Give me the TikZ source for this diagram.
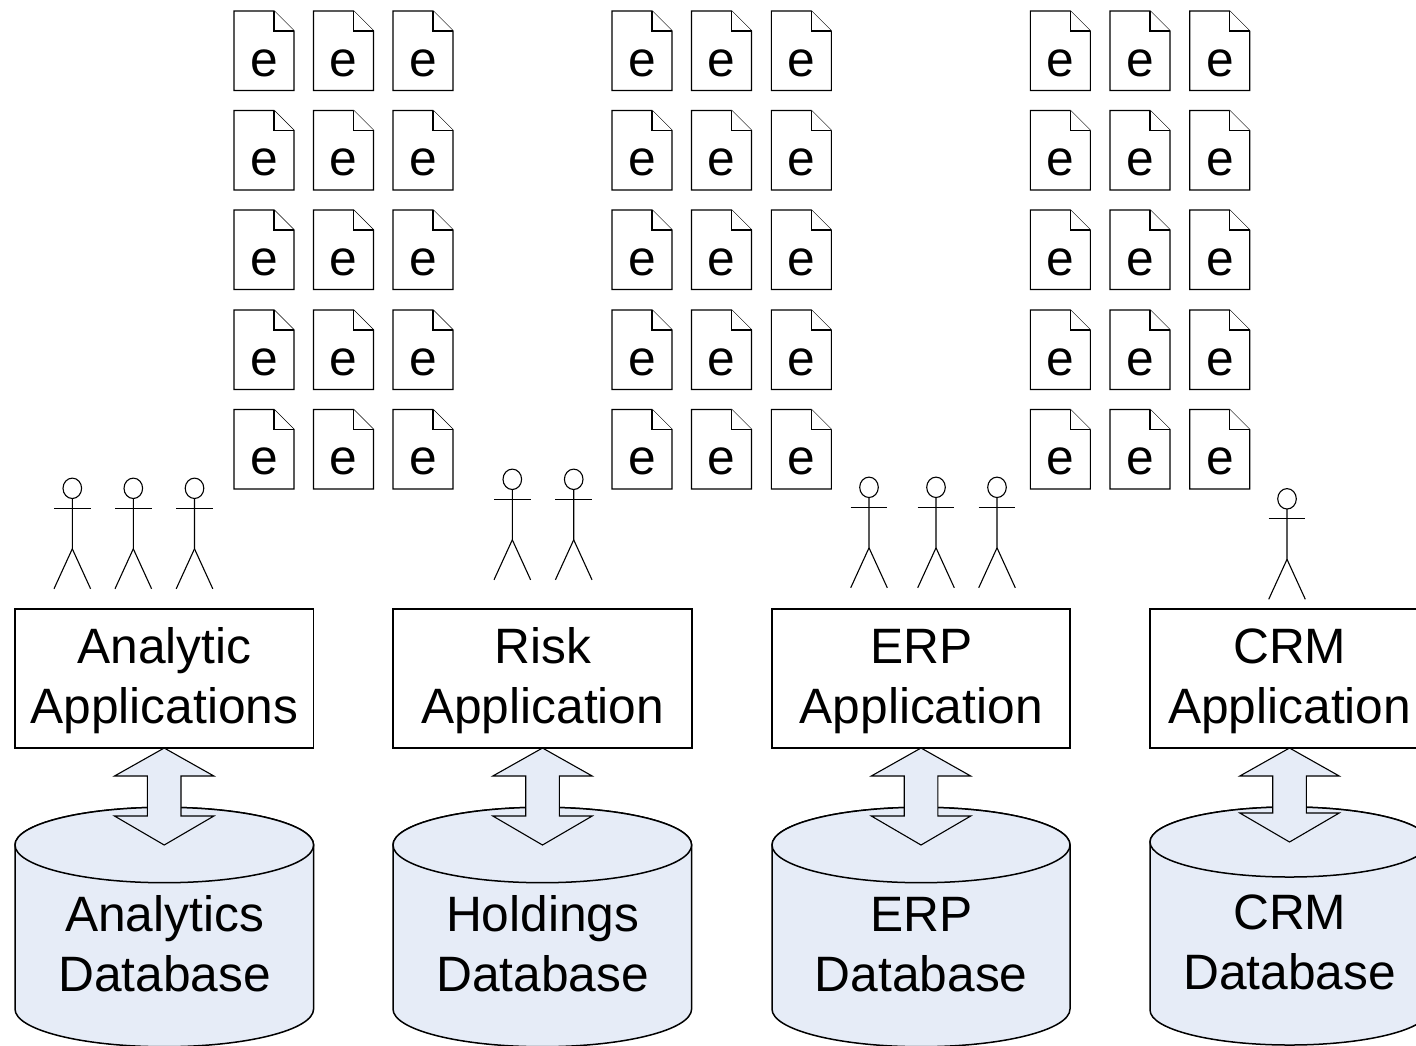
\documentclass[tikz,border=0pt]{standalone}
\usepackage{fontspec}
\setmainfont{Liberation Sans}
\usetikzlibrary{calc}
\definecolor{dbfill}{HTML}{E6ECF7}
\tikzset{
  thick line/.style={line width=0.75pt,draw=black},
  thin line/.style={line width=0.55pt,draw=black},
  label text/.style={font=\fontsize{24.85}{30}\selectfont,align=center,anchor=base,inner sep=0pt,outer sep=0pt,text=black},
  appbox/.style={thick line,fill=white,rectangle,minimum height=69.5pt,inner sep=0pt,outer sep=0pt,anchor=north west},
  dbbody/.style={thick line,fill=dbfill,line join=round},
  dblarrow/.style={thin line,fill=dbfill,line join=miter},
  docshape/.style={thin line,fill=white,line join=miter},
  actorline/.style={thin line,line cap=butt}
}
% #1 left x, #2 head-row y
\newcommand{\actorfig}[2]{%
  \draw[actorline] (#1,#2) ellipse [x radius=9.3,y radius=10.2];
  \draw[actorline] (#1,#2+10.2) -- (#1,#2+60.5) -- (#1-18.3,#2+100.5);
  \draw[actorline] (#1,#2+60.5) -- (#1+18.3,#2+100.5);
  \draw[actorline] (#1-18.3,#2+20) -- (#1+18.3,#2+20);
}
% #1 name prefix, #2 x of left, #3 y of top
\newcommand{\docfig}[3]{%
  \draw[docshape] (#2,#3) -- (#2+40,#3) -- (#2+60,#3+20) -- (#2+60,#3+79.5) -- (#2,#3+79.5) -- cycle;
  \draw[docshape] (#2+40,#3) -- (#2+40,#3+20) -- (#2+60,#3+20);
  \node[label text] (#1) at (#2+30.3,#3+65.3) {e};
}
% #1 left, #2 half width, #3 top-ellipse centre y, #4 ry, #5 bottom-curve centre y
\newcommand{\dbfig}[5]{%
  \draw[dbbody] (#1,#3) -- (#1,#5) arc[start angle=180,end angle=0,x radius=#2,y radius=#4]
     -- (#1+2*#2,#3) arc[start angle=0,end angle=-180,x radius=#2,y radius=#4] -- cycle;
  \draw[dbbody] (#1+#2,#3) ellipse [x radius=#2,y radius=#4];
}
% #1 upper node name, #2 lower tip coordinate, #3 lower wing distance above the tip
\newcommand{\dblarrowfig}[3]{%
  \draw[dblarrow] ($(#2|-#1.south)$) -- ($(#2|-#1.south)+(49.7,28)$) -- ($(#2|-#1.south)+(16.8,28)$)
    -- ($(#2)+(16.8,-#3)$) -- ($(#2)+(49.7,-#3)$) -- (#2) -- ($(#2)+(-49.7,-#3)$)
    -- ($(#2)+(-16.8,-#3)$) -- ($(#2|-#1.south)+(-16.8,28)$) -- ($(#2|-#1.south)+(-49.7,28)$) -- cycle;
}
\begin{document}
\begin{tikzpicture}[x=0.5pt,y=-0.5pt]
\useasboundingbox (0,0) rectangle (1416,1045);
\clip (0,0) rectangle (1416,1045);
\fill[white] (0,0) rectangle (1416,1045);

% documents
\foreach \g/\xa/\xb/\xc in {a/234/313.5/393, b/612/691.5/771.3, c/1030.3/1110/1189.7}{
  \foreach \r/\yy in {1/11,2/110.5,3/210,4/310,5/409.5}{
    \docfig{doc\g\r x}{\xa}{\yy}
    \docfig{doc\g\r y}{\xb}{\yy}
    \docfig{doc\g\r z}{\xc}{\yy}
  }
}

% actors
\actorfig{72.3}{488.3}
\actorfig{133.3}{488.3}
\actorfig{194.5}{488.3}
\actorfig{512.3}{479.3}
\actorfig{573.7}{479.3}
\actorfig{869}{487.3}
\actorfig{936}{487.3}
\actorfig{997}{487.3}
\actorfig{1287}{498.8}

% databases
\dbfig{15}{149.3}{845}{37.7}{1009}
\dbfig{393}{149.3}{845}{37.7}{1009}
\dbfig{772}{149}{845}{37.7}{1009}
\dbfig{1150}{139.5}{842}{35}{1010}

% application boxes
\node[appbox,minimum width=149.4pt] (app1) at (14.8,609) {};
\node[appbox,minimum width=149.4pt] (app2) at (393,609) {};
\node[appbox,minimum width=149pt] (app3) at (772,609) {};
\node[appbox,minimum width=139.5pt] (app4) at (1150,609) {};

% double arrows
\coordinate (tip1) at (164.2,845);
\coordinate (tip2) at (542.5,845);
\coordinate (tip3) at (921,845);
\coordinate (tip4) at (1289.5,842);
\dblarrowfig{app1}{tip1}{29}
\dblarrowfig{app2}{tip2}{29}
\dblarrowfig{app3}{tip3}{29}
\dblarrowfig{app4}{tip4}{29}

% labels
\node[label text] (t1a) at (164.5,663.3) {Analytic};
\node[label text] (t1b) at (164.5,723.3) {Applications};
\node[label text] (t2a) at (542.7,663.3) {Risk};
\node[label text] (t2b) at (542.7,723.3) {Application};
\node[label text] (t3a) at (921.2,663.3) {ERP};
\node[label text] (t3b) at (921.2,723.3) {Application};
\node[label text] (t4a) at (1289.7,663) {CRM};
\node[label text] (t4b) at (1289.7,723) {Application};
\node[label text] (d1a) at (164.5,931.3) {Analytics};
\node[label text] (d1b) at (164.5,991) {Database};
\node[label text] (d2a) at (542.7,931.3) {Holdings};
\node[label text] (d2b) at (542.7,991) {Database};
\node[label text] (d3a) at (921.2,931.3) {ERP};
\node[label text] (d3b) at (921.2,991) {Database};
\node[label text] (d4a) at (1289.7,929.3) {CRM};
\node[label text] (d4b) at (1289.7,989) {Database};
\end{tikzpicture}
\end{document}
